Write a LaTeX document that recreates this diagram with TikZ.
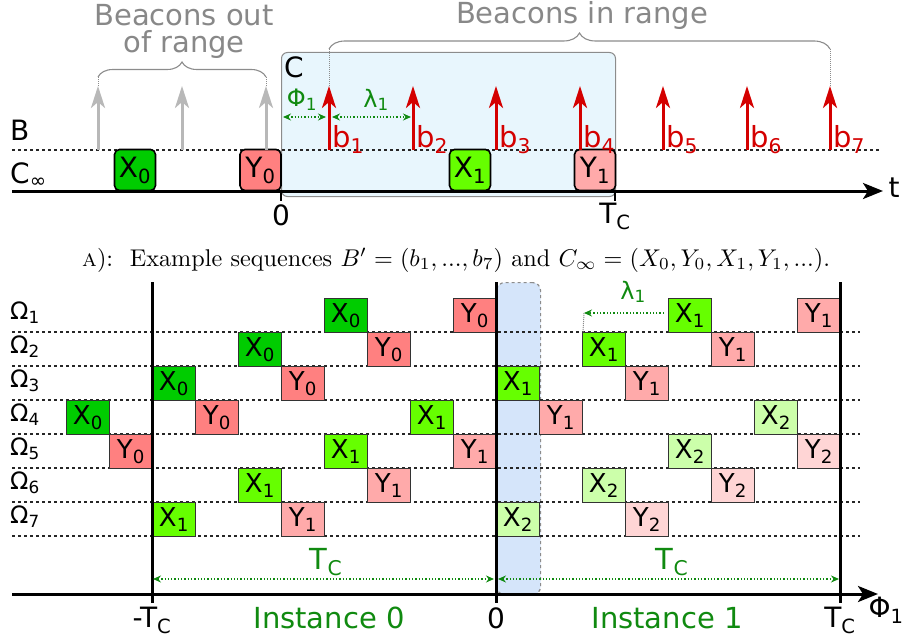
\documentclass[tikz,border=0pt]{standalone}
\usepackage{fontspec}
\newfontfamily\dejavu{DejaVu Sans}
\usetikzlibrary{arrows.meta,decorations.pathreplacing}
\newcommand\fsz[1]{\fontsize{#1}{#1}\selectfont}
\newcommand\sbs[1]{\textsubscript{#1}}
\definecolor{cX0}{HTML}{00CC00}
\definecolor{cY0}{HTML}{FF8080}
\definecolor{cX1}{HTML}{66FF00}
\definecolor{cY1}{HTML}{FFAAAA}
\definecolor{cX2}{HTML}{CCFFAA}
\definecolor{cY2}{HTML}{FFD5D5}
\definecolor{bgA}{HTML}{E8F6FD}
\definecolor{bgB}{HTML}{D5E5FA}
\definecolor{grn}{HTML}{108A10}
\definecolor{redb}{HTML}{D40000}
\definecolor{grayarrow}{HTML}{B8B8B8}
\definecolor{graytext}{HTML}{888888}
\begin{document}
\begin{tikzpicture}[x=1pt,y=-1pt,
  lab/.style={font={\dejavu\fsz{28}}, inner sep=0pt},
  glab/.style={font={\dejavu\fsz{24}}, text=grn, inner sep=0pt},
  btext/.style={font={\dejavu\fsz{29}}, text=graytext, inner sep=0pt},
  olab/.style={font={\dejavu\fsz{24}}, inner sep=0pt, anchor=west},
  blab/.style={font={\dejavu\fsz{29}}, text=redb, inner sep=0pt, anchor=base west},
  tbox/.style={draw=black, line width=1.6pt, rounded corners=5pt, minimum width=41pt, minimum height=41pt, inner sep=0pt, font={\dejavu\fsz{28}}},
  gbox/.style={draw=black!80, line width=0.8pt, minimum width=43pt, minimum height=34pt, inner sep=0pt, anchor=north west, font={\dejavu\fsz{26}}},
  dotline/.style={line width=1.1pt, dash pattern=on 3pt off 3pt, black!85},
  axis/.style={line width=3pt, -{Stealth[length=20pt,width=16pt,inset=5pt]}},
  vline/.style={line width=3pt},
  beacon/.style={line width=3pt, -{Stealth[length=22pt,width=14pt,inset=6pt]}},
  gdot/.style={grn, line width=1.3pt, dotted, {Stealth[length=8pt,width=7pt]}-{Stealth[length=8pt,width=7pt]}},
  gdotr/.style={grn, line width=1.3pt, dotted, -{Stealth[length=8pt,width=7pt]}},
  gvert/.style={black!45, line width=1pt, densely dotted},
  brc/.style={draw=black!45, line width=1.1pt, decorate, decoration={brace, amplitude=#1}},
  ilab/.style={font={\dejavu\fsz{29}}, text=grn, inner sep=0pt},
  capn/.style={inner sep=0pt, anchor=base west}
]
\useasboundingbox (0,0) rectangle (902,642);

% ===================== top part =====================
\node[draw=black!45, line width=1pt, fill=bgA, rounded corners=6pt, minimum width=334pt, minimum height=144pt, anchor=north west, inner sep=0pt] (Cwin) at (281,52) {};
\node[lab, anchor=north west] (Clab) at (284,57) {C};

\draw[dotline] (12,150) -- (880,150);
\coordinate (tstart) at (12,191);
\coordinate (tend) at (883,191);
\draw[axis] (tstart) -- (tend);
\node[lab] (tlab) at (894,188) {t};
\coordinate (z0a) at (281,191); \coordinate (z0b) at (281,201);
\coordinate (tca) at (615,191); \coordinate (tcb) at (615,201);
\draw[line width=1.6pt] (z0a) -- (z0b);
\draw[line width=1.6pt] (tca) -- (tcb);
\node[lab] (z0lab) at (281,215) {0};
\node[lab] (tclab) at (615,216) {T\sbs{C}};

\node[lab, anchor=west] (Blab) at (10,130) {B};
\node[lab, anchor=west] (Cinf) at (10,175) {C\sbs{∞}};

\node[tbox, fill=cX0] (tX0) at (135,170) {X\sbs{0}};
\node[tbox, fill=cY0] (tY0) at (260.5,170) {Y\sbs{0}};
\node[tbox, fill=cX1] (tX1) at (470,170) {X\sbs{1}};
\node[tbox, fill=cY1] (tY1) at (595,170) {Y\sbs{1}};

% gray beacons
\foreach \x [count=\i] in {98,182,266} {
  \coordinate (gb\i) at (\x,150);
  \coordinate (gt\i) at (\x,86);
  \draw[beacon, grayarrow] (gb\i) -- (gt\i);
}
% red beacons
\foreach \x [count=\i] in {329,413,496,580,663,747,830} {
  \coordinate (rb\i) at (\x,150);
  \coordinate (rt\i) at (\x,86);
  \draw[beacon, redb] (rb\i) -- (rt\i);
  \node[blab] (bl\i) at (\x+3,147) {b\sbs{\i}};
}

% braces
\coordinate (boL) at (98,77);
\coordinate (boR) at (266,77);
\draw[brc=15pt] (boL) -- (boR);
\draw[gvert] (boL) -- (gt1);
\draw[gvert] (boR) -- (gt3);
\coordinate (biL) at (329,49);
\coordinate (biR) at (830,49);
\draw[brc=16pt] (biL) -- (biR);
\draw[gvert] (biL) -- (rt1);
\draw[gvert] (biR) -- (rt7);
\node[btext] (outr1) at (184,15) {Beacons out};
\node[btext] (outr2) at (184,44) {of range};
\node[btext] (inr) at (582,16) {Beacons in range};

% Phi and lambda
\node[glab] (phi) at (302,100) {Φ\sbs{1}};
\node[glab] (lam) at (376,100) {λ\sbs{1}};
\coordinate (pa) at (283,117); \coordinate (pb) at (326,117);
\coordinate (la) at (332,117); \coordinate (lb) at (411,117);
\draw[gdot] (pa) -- (pb);
\draw[gdot] (la) -- (lb);

% caption
\node[capn] (cap) at (82,266) {\scalebox{2.42}{\normalsize\rmfamily\makebox[309pt][s]{\textsc{a}):\ \ Example sequences $B'=(b_1,...,b_7)$ and $C_\infty=(X_0,Y_0,X_1,Y_1,...)$.}}};

% ===================== bottom part =====================
\node[draw=black!45, dashed, line width=1.2pt, fill=bgB, rounded corners=8pt, minimum width=44pt, minimum height=312pt, anchor=north west, inner sep=0pt] (band) at (496,282) {};

\foreach \y in {332,366,400,434,468,502,536} \draw[dotline] (12,\y) -- (860,\y);

\foreach \i in {1,...,7} \node[olab] (om\i) at (10,{313+34*(\i-1)}) {Ω\sbs{\i}};

\foreach \r/\k/\n/\s in {1/4/X/0,1/7/Y/0,1/12/X/1,1/15/Y/1,
  2/2/X/0,2/5/Y/0,2/10/X/1,2/13/Y/1,
  3/0/X/0,3/3/Y/0,3/8/X/1,3/11/Y/1,
  4/-2/X/0,4/1/Y/0,4/6/X/1,4/9/Y/1,4/14/X/2,
  5/-1/Y/0,5/4/X/1,5/7/Y/1,5/12/X/2,5/15/Y/2,
  6/2/X/1,6/5/Y/1,6/10/X/2,6/13/Y/2,
  7/0/X/1,7/3/Y/1,7/8/X/2,7/11/Y/2}
  \node[gbox, fill=c\n\s] (g\r\n\s) at ({152+43*\k},{298+34*(\r-1)}) {\n\sbs{\s}};

\coordinate (v1a) at (152,282); \coordinate (v1b) at (152,603);
\coordinate (v2a) at (496,282); \coordinate (v2b) at (496,603);
\coordinate (v3a) at (840,282); \coordinate (v3b) at (840,603);
\draw[vline] (v1a) -- (v1b);
\draw[vline] (v2a) -- (v2b);
\draw[vline] (v3a) -- (v3b);

\coordinate (ax0) at (12,594);
\coordinate (ax1) at (878,594);
\draw[axis] (ax0) -- (ax1);
\node[lab] (philab) at (886,610) {Φ\sbs{1}};

\node[lab] (mtc) at (152,620) {-T\sbs{C}};
\node[lab] (zer) at (496,618) {0};
\node[lab] (ptc) at (840,620) {T\sbs{C}};
\node[ilab] (ins0) at (329,618) {Instance 0};
\node[ilab] (ins1) at (667,618) {Instance 1};

\node[ilab] (tc0) at (326,562) {T\sbs{C}};
\node[ilab] (tc1) at (672,562) {T\sbs{C}};
\coordinate (d1) at (153,579); \coordinate (d2) at (494,579);
\coordinate (d3) at (498,579); \coordinate (d4) at (839,579);
\draw[gdot] (d1) -- (d2);
\draw[gdot] (d3) -- (d4);

\node[glab] (lam2) at (633,292) {λ\sbs{1}};
\coordinate (l2a) at (664,313); \coordinate (l2b) at (584,313);
\coordinate (l2c) at (583,332);
\draw[gdotr] (l2a) -- (l2b);
\draw[gvert] (l2b) -- (l2c);
\end{tikzpicture}
\end{document}
